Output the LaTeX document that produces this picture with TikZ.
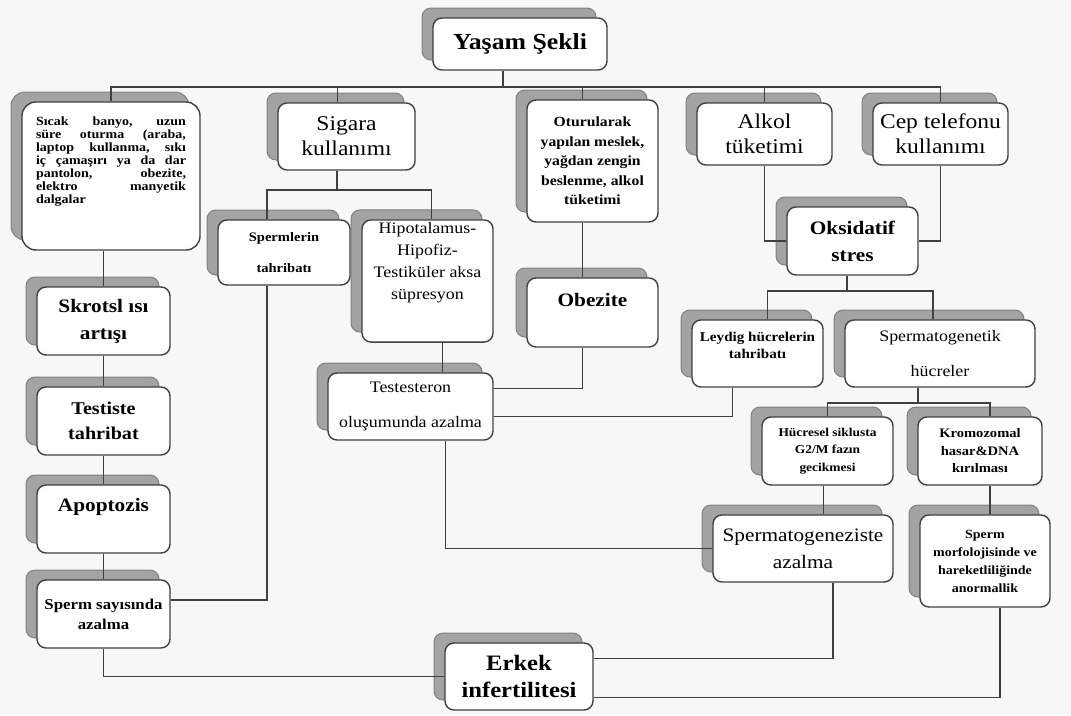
\documentclass[tikz,border=0pt]{standalone}
\usepackage{fontspec}
\setmainfont{Liberation Serif}[FakeStretch=1.12]
\usetikzlibrary{shadows}

\begin{document}
\begin{tikzpicture}[x=1pt,y=-1pt,
	main_node/.style={draw=black!75,line width=1.4pt,fill=white,rounded corners=9pt,align=center,inner sep=2pt,
		general shadow={fill=black!36,draw=black!50,line width=1pt,shadow xshift=-11pt,shadow yshift=10pt}},
	link/.style={draw=black!75,line width=1.4pt}]

		\path[use as bounding box,fill=black!3] (0,0) rectangle (1071,715);

		\node[main_node,minimum width=174,minimum height=52,font=\fontsize{23}{27}\selectfont\bfseries] (1) at (520,44) {Yaşam Şekli};
		\node[main_node,minimum width=178,minimum height=148,rounded corners=14pt,text width=150pt,align=left,text depth=110pt,font=\fontsize{12.5}{13}\selectfont\bfseries] (2) at (111,176) {Sıcak\hfill banyo,\hfill uzun\\süre\hfill oturma\hfill (araba,\\laptop\hfill kullanma,\hfill sıkı\\iç\hfill çamaşırı\hfill ya\hfill da\hfill dar\\pantolon,\hfill obezite,\\elektro\hfill manyetik\\dalgalar};
		\node[main_node,minimum width=137,minimum height=67,font=\fontsize{21}{25}\selectfont] (3) at (346.5,136.5) {Sigara\\kullanımı};
		\node[main_node,minimum width=131,minimum height=122,font=\fontsize{14}{19.5}\selectfont\bfseries] (4) at (592.5,161) {Oturularak\\yapılan meslek,\\yağdan zengin\\beslenme, alkol\\tüketimi};
		\node[main_node,minimum width=135,minimum height=62,font=\fontsize{21}{25}\selectfont] (5) at (764.5,134) {Alkol\\tüketimi};
		\node[main_node,minimum width=135,minimum height=62,font=\fontsize{21}{25}\selectfont] (6) at (940.5,134) {Cep telefonu\\kullanımı};

		\node[main_node,minimum width=133,minimum height=68,font=\fontsize{19}{27}\selectfont\bfseries] (7) at (103.5,321) {Skrotsl ısı\\artışı};
		\node[main_node,minimum width=133,minimum height=68,font=\fontsize{18}{25}\selectfont\bfseries] (8) at (103.5,421) {Testiste\\tahribat};
		\node[main_node,minimum width=133,minimum height=68,text depth=28pt,font=\fontsize{19}{25}\selectfont\bfseries] (9) at (103.5,519) {Apoptozis};
		\node[main_node,minimum width=133,minimum height=68,font=\fontsize{15}{20}\selectfont\bfseries] (10) at (103.5,614) {Sperm sayısında\\azalma};

		\node[main_node,minimum width=132,minimum height=65,font=\fontsize{13}{31}\selectfont\bfseries] (11) at (284,252.5) {Spermlerin\\tahribatı};
		\node[main_node,minimum width=131,minimum height=122,text depth=41pt,font=\fontsize{16}{22}\selectfont] (12) at (427.5,281) {Hipotalamus-\\Hipofiz-\\Testiküler aksa\\süpresyon};
		\node[main_node,minimum width=165,minimum height=67,font=\fontsize{16}{35}\selectfont] (13) at (410.5,406.5) {Testesteron\\oluşumunda azalma};
		\node[main_node,minimum width=131,minimum height=69,text depth=26pt,font=\fontsize{19}{25}\selectfont\bfseries] (14) at (592.5,312.5) {Obezite};

		\node[main_node,minimum width=131,minimum height=68,font=\fontsize{19}{27}\selectfont\bfseries] (15) at (852.5,241) {Oksidatif\\stres};
		\node[main_node,minimum width=131,minimum height=67,text depth=16pt,font=\fontsize{13.5}{17}\selectfont\bfseries] (16) at (757.5,353.5) {Leydig hücrelerin\\tahribatı};
		\node[main_node,minimum width=190,minimum height=67,font=\fontsize{16}{35}\selectfont] (17) at (940,353.5) {Spermatogenetik\\hücreler};
		\node[main_node,minimum width=131,minimum height=68,font=\fontsize{12}{17.5}\selectfont\bfseries] (18) at (827.5,451) {Hücresel siklusta\\G2/M fazın\\gecikmesi};
		\node[main_node,minimum width=124,minimum height=68,font=\fontsize{13}{17.5}\selectfont\bfseries] (19) at (980,451) {Kromozomal\\hasar\&DNA\\kırılması};
		\node[main_node,minimum width=180,minimum height=67,font=\fontsize{19}{27}\selectfont] (20) at (803,548.5) {Spermatogeneziste\\azalma};
		\node[main_node,minimum width=130,minimum height=92,font=\fontsize{12.5}{18}\selectfont\bfseries] (21) at (985,561) {Sperm\\morfolojisinde ve\\hareketliliğinde\\anormallik};
		\node[main_node,minimum width=148,minimum height=67,font=\fontsize{22}{27}\selectfont\bfseries] (22) at (519,676.5) {Erkek\\infertilitesi};

		\coordinate (b1) at (503,87);
		\coordinate (b2) at (337,190);
		\coordinate (b3) at (847,291);
		\coordinate (b4) at (918,403);

		\draw[link] (b1 |- 1.south) -- (b1);
		\draw[link] (2.north) |- (b1) -| (6.north);
		\draw[link] ([xshift=-9]3.north) -- ([xshift=-9]3.north |- b1);
		\draw[link] ([xshift=-10]4.north) -- ([xshift=-10]4.north |- b1);
		\draw[link] (5.north) -- (5.north |- b1);

		\draw[link] (7.north |- 2.south) -- (7.north);
		\draw[link] (7) -- (8);
		\draw[link] (8) -- (9);
		\draw[link] (9) -- (10);

		\draw[link] (b2 |- 3.south) -- (b2);
		\draw[link] ([xshift=-17]11.north) |- (b2) -| ([xshift=4]12.north);
		\draw[link] ([xshift=-17]11.south) |- ([yshift=14]10.east);
		\draw[link] ([xshift=15]12.south) -- ([xshift=15]12.south |- 13.north);
		\draw[link] ([xshift=-10]4.south) -- ([xshift=-10]4.south |- 14.north);
		\draw[link] ([xshift=-10]14.south) |- ([yshift=18]13.east);
		\draw[link] ([xshift=-25]16.south) |- ([yshift=-10]13.east);
		\draw[link] ([xshift=35]13.south) |- (20.west);

		\draw[link] (5.south) |- (15.west);
		\draw[link] (6.south) |- (15.east);
		\draw[link] (b3 |- 15.south) -- (b3);
		\draw[link] ([xshift=10]16.north) |- (b3) -| ([xshift=-7]17.north);
		\draw[link] (b4 |- 17.south) -- (b4);
		\draw[link] (18.north) |- (b4) -| ([xshift=10]19.north);
		\draw[link] ([xshift=-4]18.south) -- ([xshift=-4]18.south |- 20.north);
		\draw[link] ([xshift=10]19.south) -- ([xshift=10]19.south |- 21.north);

		\draw[link] (10.south) |- (22.west);
		\draw[link] ([xshift=30]20.south) |- ([yshift=18]22.east);
		\draw[link] ([xshift=15]21.south) |- ([yshift=-21]22.east);
		\end{tikzpicture}
\end{document}
